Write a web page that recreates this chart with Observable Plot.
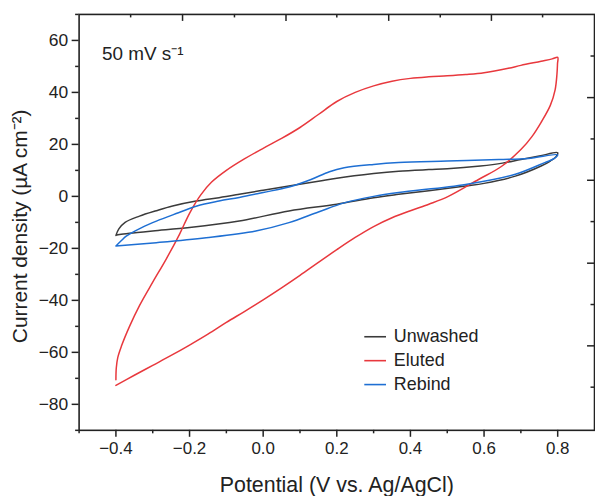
<!DOCTYPE html>
<html>
<head>
<meta charset="utf-8">
<script src="https://cdn.jsdelivr.net/npm/d3@7"></script>
<script src="https://cdn.jsdelivr.net/npm/@observablehq/plot@0.6"></script>
<style>
  html, body { margin: 0; padding: 0; background: #fff; overflow: hidden; }
  #chart { width: 595px; height: 498px; overflow: hidden; }
</style>
</head>
<body>
<div id="chart"></div>
<script>
// ---- Data (potential V vs Ag/AgCl, current density µA cm⁻²) ----
const unwashedV = [-0.4, -0.392, -0.375, -0.336, -0.29, -0.246, -0.182, -0.12, -0.065, 0.0, 0.07, 0.15, 0.2, 0.3, 0.368, 0.45, 0.5, 0.59, 0.65, 0.7, 0.75, 0.8,
                   0.795, 0.78, 0.755, 0.685, 0.6, 0.55, 0.45, 0.368, 0.3, 0.2, 0.07, -0.065, -0.2, -0.3, -0.363, -0.39, -0.4];
const unwashedI = [-15, -12.5, -10, -7.6, -5.5, -3.7, -1.8, -0.5, 0.8, 2.4, 4, 5.8, 7, 8.8, 9.7, 10.3, 10.6, 11.7, 12.8, 14.2, 15.5, 16.8,
                   15.2, 13.6, 11.7, 7.8, 5, 4, 2.2, 0.8, -0.5, -3, -5.6, -9.5, -12, -13.3, -14.2, -14.7, -15];

const elutedV = [-0.4, -0.399, -0.395, -0.385, -0.363, -0.336, -0.3, -0.263, -0.227, -0.2, -0.17, -0.14, -0.1, -0.05, 0.0, 0.05, 0.1, 0.15, 0.2, 0.25, 0.3, 0.35, 0.4, 0.45, 0.5, 0.55, 0.6, 0.666, 0.7, 0.755, 0.785, 0.8,
                 0.7995, 0.798, 0.793, 0.78, 0.755, 0.73, 0.7, 0.647, 0.585, 0.503, 0.45, 0.4, 0.35, 0.3, 0.25, 0.2, 0.15, 0.1, 0.05, 0.0, -0.05, -0.1, -0.15, -0.2, -0.25, -0.3, -0.35, -0.4];
const elutedI = [-70.5, -66, -62, -57.6, -50, -42, -33, -24, -14.5, -6.5, 0.5, 5.5, 10, 14.5, 18.5, 22.3, 26.5, 31.5, 36.5, 40, 42.5, 44.3, 45.4, 46, 46.4, 46.9, 47.6, 49.3, 50.4, 52, 52.9, 53.5,
                 51, 47, 41, 35, 28.5, 23, 18, 11.5, 6.5, 0, -3, -5.5, -8.2, -11.6, -15.8, -20.5, -25.4, -30.4, -35.2, -39.8, -44.2, -48.5, -53, -57.2, -61.2, -65, -68.8, -72.7];

const rebindV = [-0.4, -0.385, -0.372, -0.33, -0.29, -0.23, -0.18, -0.12, -0.065, 0.0, 0.07, 0.13, 0.18, 0.22, 0.3, 0.368, 0.5, 0.64, 0.72, 0.8,
                 0.79, 0.765, 0.685, 0.55, 0.368, 0.3, 0.22, 0.15, 0.07, -0.02, -0.155, -0.29, -0.4];
const rebindI = [-19.1, -17, -15.3, -12, -9.5, -6.3, -3.7, -1.8, -0.4, 1.5, 3.6, 6.5, 9.5, 11, 12.3, 13, 13.6, 14.2, 14.6, 16,
                 14.5, 13, 8.5, 4.6, 1.5, 0, -2.5, -6, -10.1, -13.3, -15.9, -17.8, -19.1];

const seriesNames = ["Unwashed", "Eluted", "Rebind"];
const seriesColors = ["#3b3b3b", "#e8383d", "#1e6fd3"];

const xMajor = [-0.4, -0.2, 0.0, 0.2, 0.4, 0.6, 0.8];
const xMinor = [-0.5, -0.3, -0.1, 0.1, 0.3, 0.5, 0.7];
const yMajor = [-80, -60, -40, -20, 0, 20, 40, 60];
const yMinor = [-90, -70, -50, -30, -10, 10, 30, 50, 70];
// mirrored frame ticks (top and right edges) as they appear in the figure
const topMajor = [-0.219, 0.062, 0.341, 0.62];
const topMinor = [-0.36, -0.078, 0.2, 0.481, 0.759];
const rightMajor = [38.0, 6.2, -25.7, -57.5];
const rightMinor = [54.0, 22.1, -9.7, -41.6, -73.4];

const legendY = [-54, -63.2, -72.4];

// ---- Build ----
const W = 598, H = 498, mL = 79, mR = 1, mT = 14, mB = 66;
const plotW = W - mL - mR, plotH = H - mT - mB;
const font = "'Liberation Sans', Arial, Helvetica, sans-serif";
const ink = "#222";

function toRows(name, V, I) { return V.map((v, i) => ({name, v, i: I[i]})); }
const curves = [toRows("Unwashed", unwashedV, unwashedI), toRows("Eluted", elutedV, elutedI), toRows("Rebind", rebindV, rebindI)];

const marks = [];
curves.forEach((rows, k) => {
  marks.push(Plot.line(rows, {x: "v", y: "i", stroke: seriesColors[k], strokeWidth: 1.5, curve: "catmull-rom"}));
});
// axes
marks.push(Plot.axisX({ticks: xMinor, tickSize: 3.5, tickFormat: () => "", stroke: ink, strokeWidth: 1.5, label: null}));
marks.push(Plot.axisX({ticks: xMajor, tickSize: 7, tickPadding: 5, tickFormat: d3.format(".1f"), stroke: ink, strokeWidth: 1.5, fontSize: 17, fill: ink, label: null}));
marks.push(Plot.axisY({ticks: yMinor, tickSize: 3.5, tickFormat: () => "", stroke: ink, strokeWidth: 1.5, label: null}));
marks.push(Plot.axisY({ticks: yMajor, tickSize: 7, tickPadding: 4, tickFormat: d3.format("d"), stroke: ink, strokeWidth: 1.5, fontSize: 17.5, fill: ink, label: null}));
// mirrored ticks on the top and right edges
marks.push(Plot.ruleX(topMajor, {x: d => d, insetBottom: plotH - 7, stroke: ink, strokeWidth: 1.5}));
marks.push(Plot.ruleX(topMinor, {x: d => d, insetBottom: plotH - 3.5, stroke: ink, strokeWidth: 1.5}));
marks.push(Plot.ruleY(rightMajor, {y: d => d, insetLeft: plotW - 7, stroke: ink, strokeWidth: 1.5}));
marks.push(Plot.ruleY(rightMinor, {y: d => d, insetLeft: plotW - 3.5, stroke: ink, strokeWidth: 1.5}));
marks.push(Plot.frame({stroke: ink, strokeWidth: 1.6}));
// axis titles
marks.push(Plot.text(["Potential (V vs. Ag/AgCl)"], {text: d => d, frameAnchor: "bottom", dy: 55, fontSize: 21.5, fill: ink, textAnchor: "middle", lineAnchor: "middle"}));
marks.push(Plot.text(["Current density (µA cm⁻²)"], {text: d => d, frameAnchor: "left", dx: -59, dy: 4, rotate: -90, fontSize: 21, fill: ink, textAnchor: "middle", lineAnchor: "middle"}));
// annotation
marks.push(Plot.text(["50 mV s⁻¹"], {text: d => d, frameAnchor: "top-left", dx: 23, dy: 40, fontSize: 19, fill: ink, textAnchor: "start", lineAnchor: "middle"}));
// legend
seriesNames.forEach((n, k) => {
  marks.push(Plot.ruleY([legendY[k]], {y: d => d, x1: 0.276, x2: 0.335, stroke: seriesColors[k], strokeWidth: 1.6}));
  marks.push(Plot.text([n], {text: d => d, x: 0.355, y: legendY[k], textAnchor: "start", fontSize: 18, fill: ink, lineAnchor: "middle"}));
});

const chart = Plot.plot({
  width: W, height: H,
  marginLeft: mL, marginRight: mR, marginTop: mT, marginBottom: mB,
  style: {fontFamily: font, background: "#fff", color: ink, overflow: "hidden"},
  x: {domain: [-0.5, 0.9]},
  y: {domain: [-90, 70]},
  marks
});
document.getElementById("chart").appendChild(chart);
</script>
</body>
</html>
